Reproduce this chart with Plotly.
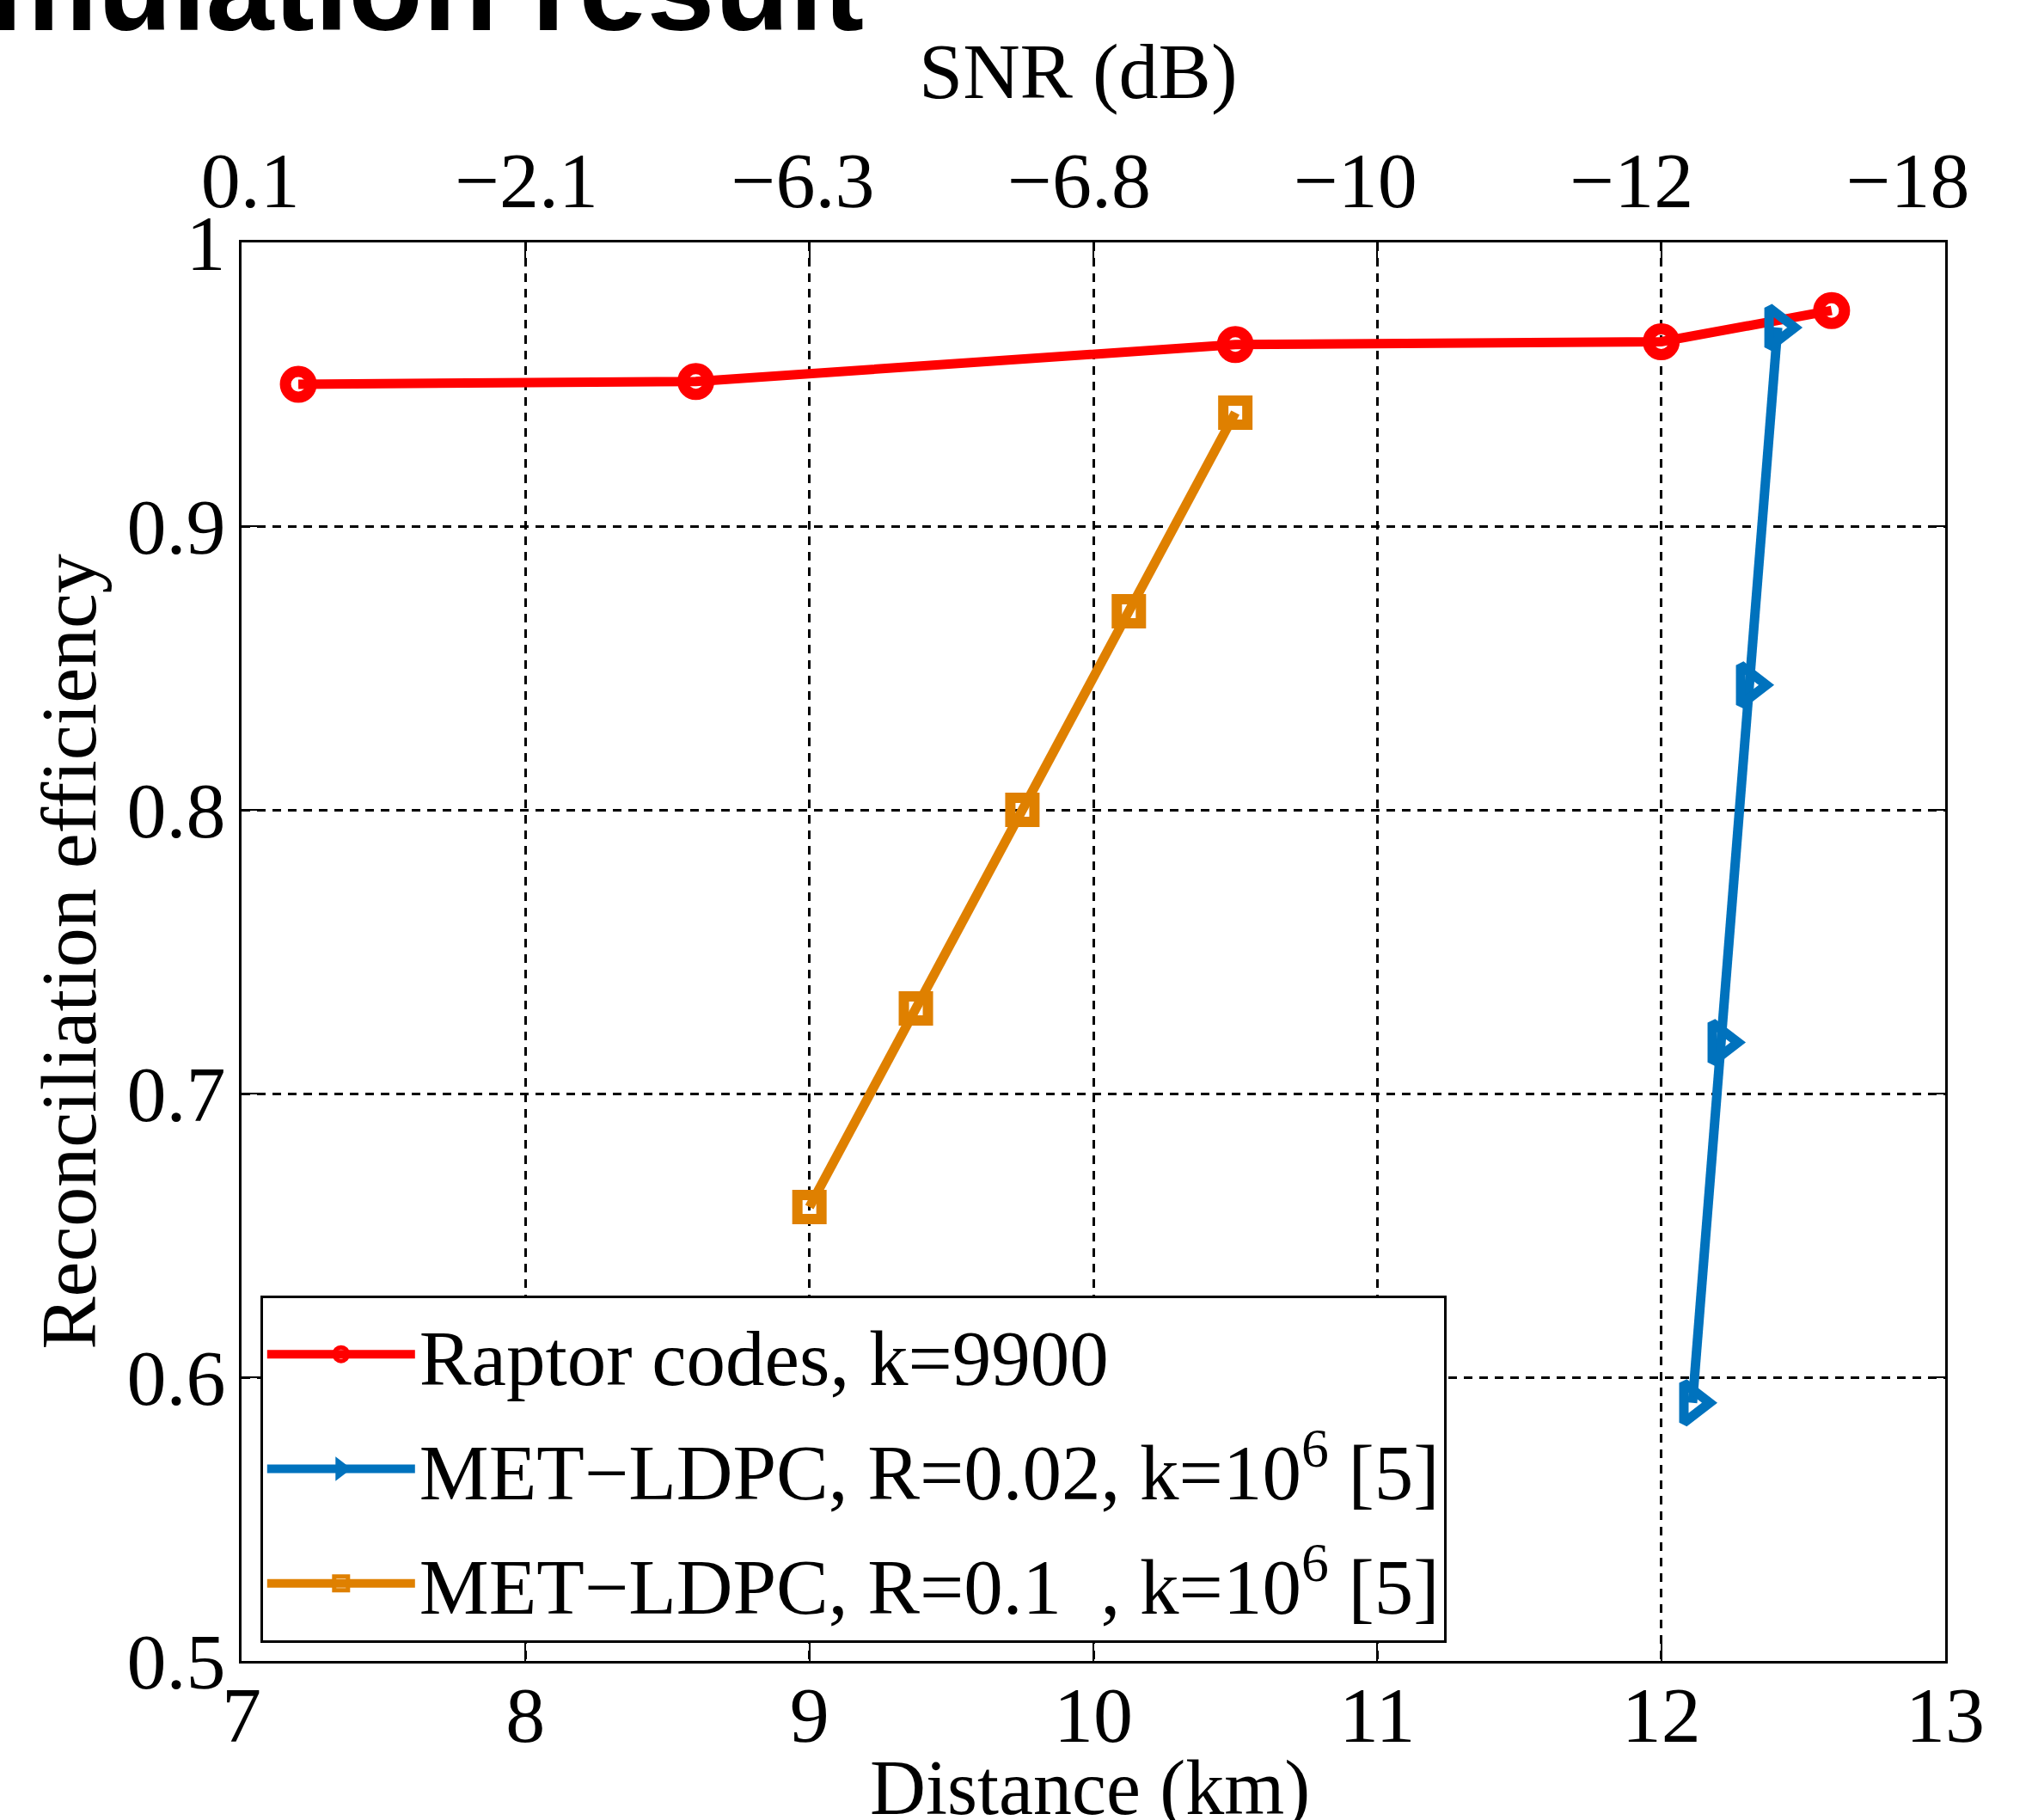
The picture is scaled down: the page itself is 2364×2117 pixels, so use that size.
import plotly.graph_objects as go

# ---------------- data ----------------
raptor_dist = [7.2, 8.6, 10.5, 12.0, 12.6]
raptor_eff = [0.950, 0.951, 0.964, 0.965, 0.976]

met002_dist = [12.11, 12.21, 12.31, 12.41]
met002_eff = [0.591, 0.718, 0.844, 0.970]

met01_dist = [9.0, 9.375, 9.75, 10.125, 10.5]
met01_eff = [0.660, 0.730, 0.800, 0.870, 0.940]

dist_ticks = [7, 8, 9, 10, 11, 12, 13]
snr_ticktext = ["0.1", "\u22122.1", "\u22126.3", "\u22126.8", "\u221210", "\u221212", "\u221218"]
eff_ticks = [0.5, 0.6, 0.7, 0.8, 0.9, 1.0]
eff_ticktext = ["0.5", "0.6", "0.7", "0.8", "0.9", "1"]

names = [
    "Raptor codes, k=9900",
    "MET\u2212LDPC, R=0.02, k=10<sup>6</sup> [5]",
    "MET\u2212LDPC, R=0.1\u00a0\u00a0, k=10<sup>6</sup> [5]",
]

RED = "#FF0000"
BLUE = "#0072BD"
ORANGE = "#DF8000"
SERIF = "Liberation Serif, Times New Roman, serif"

fig = go.Figure()

fig.add_trace(go.Scatter(
    x=raptor_dist, y=raptor_eff, mode="lines+markers", name=names[0],
    line=dict(color=RED, width=11),
    marker=dict(symbol="circle-open", size=30, color=RED, line=dict(width=13, color=RED)),
    legendgroup="a",
))
fig.add_trace(go.Scatter(
    x=met002_dist, y=met002_eff, mode="lines+markers", name=names[1],
    line=dict(color=BLUE, width=11),
    marker=dict(symbol="triangle-right-open", size=40, color=BLUE, line=dict(width=11, color=BLUE)),
    legendgroup="b",
))
fig.add_trace(go.Scatter(
    x=met01_dist, y=met01_eff, mode="lines+markers", name=names[2],
    line=dict(color=ORANGE, width=11),
    marker=dict(symbol="square-open", size=28, color=ORANGE, line=dict(width=12, color=ORANGE)),
    legendgroup="c",
))
# carrier for the top (SNR) axis labels
fig.add_trace(go.Scatter(
    x=dist_ticks, y=[None] * len(dist_ticks), xaxis="x2", mode="markers",
    showlegend=False, hoverinfo="skip",
))

tickfont = dict(family=SERIF, size=92, color="black")

fig.update_layout(
    width=2364, height=2117,
    margin=dict(l=281, r=101, t=282, b=185),
    paper_bgcolor="white", plot_bgcolor="white",
    font=dict(family=SERIF, color="black"),
    showlegend=True,
    legend=dict(
        x=0.011, y=0.013, xanchor="left", yanchor="bottom",
        bgcolor="white", bordercolor="black", borderwidth=3,
        font=dict(family=SERIF, size=91, color="black"),
        itemwidth=172, tracegroupgap=12,
    ),
    xaxis=dict(
        range=[7, 13], tickvals=dist_ticks, ticktext=[str(t) for t in dist_ticks],
        tickfont=tickfont, ticklabelstandoff=-19, automargin=False,
        showline=True, linecolor="black", linewidth=3, mirror="ticks",
        ticks="inside", ticklen=20, tickwidth=2, tickcolor="black",
        showgrid=True, gridcolor="black", gridwidth=3, griddash="10px,8px",
        zeroline=False,
    ),
    xaxis2=dict(
        overlaying="x", side="top", anchor="y", automargin=False,
        range=[6.968, 13.135], tickvals=dist_ticks, ticktext=snr_ticktext,
        tickfont=tickfont, ticklabelstandoff=22,
        showline=False, ticks="", showgrid=False, zeroline=False,
    ),
    yaxis=dict(
        range=[0.5, 1.0], tickvals=eff_ticks, ticktext=eff_ticktext,
        tickfont=tickfont, ticklabelstandoff=-3, automargin=False,
        showline=True, linecolor="black", linewidth=3, mirror="ticks",
        ticks="inside", ticklen=20, tickwidth=2, tickcolor="black",
        showgrid=True, gridcolor="black", gridwidth=3, griddash="10px,8px",
        zeroline=False,
        title=dict(text="Reconciliation efficiency", font=dict(family=SERIF, size=92, color="black"), standoff=6),
    ),
    annotations=[
        dict(
            text="<b>Simulation result</b>", xref="paper", yref="paper",
            x=-0.217, y=1.18, xanchor="left", yanchor="middle", showarrow=False,
            font=dict(family="Liberation Sans, Arial, sans-serif", size=142, color="black"),
        ),
        dict(
            text="SNR (dB)", xref="paper", yref="paper",
            x=0.4914, y=1.1206, xanchor="center", yanchor="middle", showarrow=False,
            font=dict(family=SERIF, size=92, color="black"),
        ),
        dict(
            text="Distance (km)", xref="paper", yref="paper",
            x=0.498, y=-0.0897, xanchor="center", yanchor="middle", showarrow=False,
            font=dict(family=SERIF, size=90, color="black"),
        ),
    ],
)

fig.write_html(
    "out.html",
    config={"displayModeBar": False},
    post_script="document.body.style.margin='0';document.body.style.overflow='hidden';",
)
